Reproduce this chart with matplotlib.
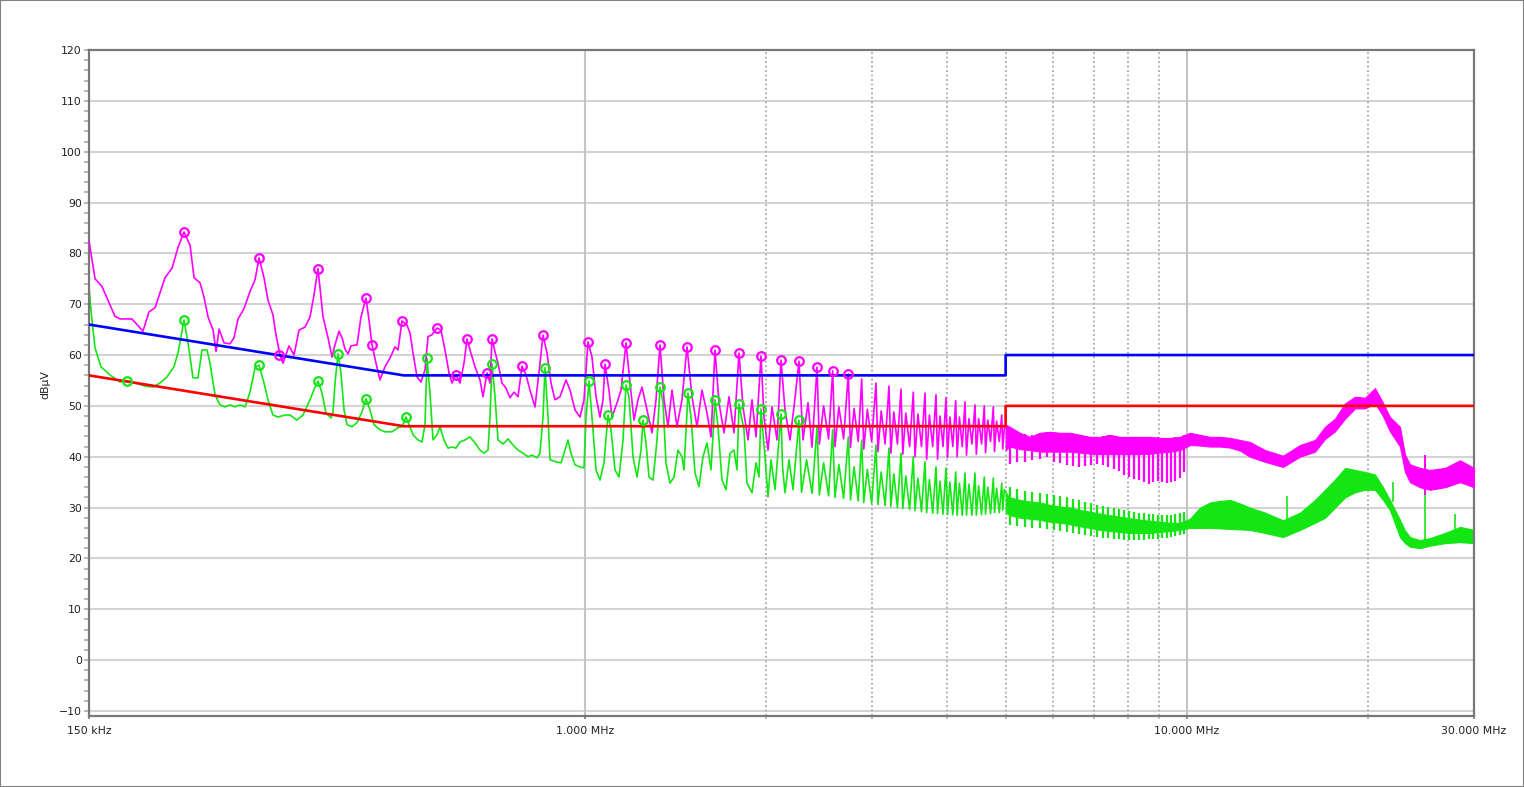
import matplotlib
matplotlib.use('Agg')
import matplotlib.pyplot as plt
from matplotlib.patches import Rectangle
from matplotlib.ticker import FixedLocator, NullFormatter

plt.rcParams['font.family'] = ['DejaVu Sans']

# ---- limit lines (MHz / dBuV) ----
lim_f = [0.15, 0.5, 5.0, 5.0, 30.0]
lim_qp = [66, 56, 56, 60, 60]
lim_av = [56, 46, 46, 50, 50]

# ---- peak trace (magenta), 150 kHz .. 2.4 MHz ----
pk_f = [0.1500, 0.1535, 0.1576, 0.1657, 0.1689, 0.1768, 0.1844, 0.1887, 0.1931, 0.2006,
        0.2061, 0.2108, 0.2157, 0.2208, 0.2242, 0.2294, 0.2329, 0.2365, 0.2411, 0.2439,
        0.2467, 0.2514, 0.2573, 0.2612, 0.2653, 0.2714, 0.2777, 0.2831, 0.2875, 0.2930,
        0.2975, 0.3032, 0.3067, 0.3115, 0.3151, 0.3224, 0.3286, 0.3350, 0.3427, 0.3494,
        0.3547, 0.3602, 0.3672, 0.3743, 0.3800, 0.3844, 0.3903, 0.3949, 0.3994, 0.4040,
        0.4087, 0.4182, 0.4246, 0.4328, 0.4378, 0.4429, 0.4497, 0.4566, 0.4654, 0.4744,
        0.4836, 0.4892, 0.4967, 0.5063, 0.5122, 0.5181, 0.5261, 0.5342, 0.5424, 0.5487,
        0.5571, 0.5679, 0.5766, 0.5855, 0.5946, 0.6014, 0.6107, 0.6201, 0.6297, 0.6369,
        0.6443, 0.6567, 0.6694, 0.6771, 0.6876, 0.6955, 0.7009, 0.7090, 0.7171, 0.7282,
        0.7394, 0.7508, 0.7624, 0.7742, 0.7861, 0.7982, 0.8105, 0.8262, 0.8421, 0.8519,
        0.8650, 0.8783, 0.8919, 0.9091, 0.9302, 0.9446, 0.9628, 0.9814, 0.9965, 1.0119,
        1.0275, 1.0433, 1.0594, 1.0717, 1.0799, 1.0965, 1.1092, 1.1306, 1.1481, 1.1702,
        1.1883, 1.2066, 1.2252, 1.2441, 1.2681, 1.2926, 1.3126, 1.3328, 1.3533, 1.3741,
        1.3953, 1.4223, 1.4497, 1.4778, 1.5063, 1.5354, 1.5650, 1.5953, 1.6199, 1.6448,
        1.6702, 1.7025, 1.7353, 1.7688, 1.8030, 1.8308, 1.8662, 1.8949, 1.9242, 1.9613,
        1.9840, 2.0146, 2.0456, 2.0851, 2.1173, 2.1499, 2.1915, 2.2253, 2.2682, 2.3032,
        2.3477, 2.3839]
pk_v = [82.5, 75.0, 73.5, 67.6, 67.1, 67.1, 64.7, 68.5, 69.3, 75.2,
        77.1, 81.1, 84.2, 81.6, 75.2, 74.2, 71.4, 67.5, 64.9, 60.7,
        65.1, 62.4, 62.2, 63.4, 67.1, 69.1, 72.5, 74.8, 79.1, 75.2,
        70.8, 67.9, 64.0, 60.0, 58.4, 61.8, 60.0, 64.9, 65.5, 67.5,
        71.8, 77.0, 67.5, 63.4, 59.6, 62.0, 64.7, 63.4, 61.2, 60.2,
        61.8, 62.0, 67.5, 71.2, 66.9, 62.0, 58.4, 55.1, 57.7, 59.4,
        61.6, 61.0, 66.7, 65.9, 64.3, 60.4, 55.7, 54.7, 57.1, 63.6,
        64.0, 65.3, 64.9, 61.0, 56.5, 54.5, 56.1, 54.5, 58.4, 63.2,
        61.0, 57.7, 55.1, 51.8, 56.5, 54.5, 63.2, 60.6, 58.4, 54.5,
        53.5, 51.6, 52.7, 51.8, 57.8, 56.1, 53.1, 49.8, 58.4, 63.9,
        60.4, 54.5, 51.2, 51.8, 55.1, 53.1, 49.2, 47.8, 51.2, 62.6,
        59.6, 51.8, 47.8, 51.2, 58.2, 53.1, 47.8, 50.6, 53.1, 62.4,
        54.5, 47.2, 51.2, 53.7, 49.2, 44.7, 51.2, 62.0, 51.2, 45.9,
        53.1, 45.9, 51.2, 61.6, 51.8, 45.9, 53.1, 48.6, 43.9, 61.0,
        50.6, 44.7, 51.8, 44.7, 60.4, 49.8, 43.3, 51.2, 43.9, 59.8,
        47.8, 41.3, 49.8, 43.3, 59.0, 49.2, 43.3, 49.8, 58.8, 43.3,
        50.6, 41.9]

# ---- average trace (green), 150 kHz .. 2.4 MHz ----
av_f = [0.1500, 0.1517, 0.1535, 0.1570, 0.1625, 0.1689, 0.1735, 0.1789, 0.1858, 0.1916,
        0.1968, 0.2022, 0.2076, 0.2108, 0.2133, 0.2157, 0.2191, 0.2233, 0.2276, 0.2311,
        0.2356, 0.2383, 0.2429, 0.2476, 0.2524, 0.2573, 0.2622, 0.2673, 0.2725, 0.2777,
        0.2831, 0.2875, 0.2930, 0.2975, 0.3032, 0.3091, 0.3175, 0.3236, 0.3324, 0.3401,
        0.3494, 0.3561, 0.3602, 0.3658, 0.3714, 0.3786, 0.3815, 0.3844, 0.3889, 0.3933,
        0.3979, 0.4025, 0.4103, 0.4182, 0.4262, 0.4328, 0.4395, 0.4463, 0.4566, 0.4654,
        0.4781, 0.4892, 0.4967, 0.5044, 0.5122, 0.5181, 0.5281, 0.5362, 0.5424, 0.5466,
        0.5529, 0.5593, 0.5679, 0.5744, 0.5833, 0.5923, 0.6014, 0.6107, 0.6201, 0.6321,
        0.6443, 0.6567, 0.6694, 0.6797, 0.6902, 0.6955, 0.7009, 0.7090, 0.7171, 0.7310,
        0.7451, 0.7595, 0.7742, 0.7891, 0.8043, 0.8168, 0.8325, 0.8421, 0.8519, 0.8584,
        0.8683, 0.8750, 0.8953, 0.9126, 0.9267, 0.9373, 0.9482, 0.9628, 0.9814, 0.9965,
        1.0042, 1.0158, 1.0314, 1.0433, 1.0594, 1.0758, 1.0923, 1.1050, 1.1220, 1.1393,
        1.1569, 1.1702, 1.1837, 1.2020, 1.2205, 1.2393, 1.2489, 1.2633, 1.2779, 1.2976,
        1.3176, 1.3328, 1.3482, 1.3637, 1.3847, 1.4061, 1.4277, 1.4497, 1.4609, 1.4834,
        1.5005, 1.5237, 1.5472, 1.5710, 1.5953, 1.6199, 1.6448, 1.6638, 1.6895, 1.7155,
        1.7420, 1.7688, 1.7893, 1.8030, 1.8378, 1.8590, 1.8949, 1.9242, 1.9464, 1.9613,
        1.9916, 2.0146, 2.0378, 2.0693, 2.1173, 2.1300, 2.1499, 2.1831, 2.2168, 2.2682,
        2.2900, 2.3350, 2.3850]
av_v = [73.2, 66.9, 61.4, 57.7, 56.1, 54.7, 55.0, 54.5, 53.9, 53.7,
        54.5, 55.7, 57.7, 60.4, 63.6, 66.9, 62.4, 55.5, 55.5, 61.0,
        61.0, 58.4, 52.2, 50.2, 49.8, 50.2, 49.8, 50.2, 49.8, 52.7,
        57.5, 58.0, 54.5, 51.2, 48.2, 47.8, 48.2, 48.2, 47.2, 48.2,
        51.2, 53.7, 54.9, 52.5, 48.6, 47.6, 48.8, 54.5, 60.2, 56.5,
        49.2, 46.3, 45.9, 46.7, 48.8, 51.4, 49.2, 46.3, 45.3, 44.9,
        44.9, 45.7, 45.9, 47.8, 45.9, 44.3, 43.3, 42.9, 46.3, 59.4,
        52.5, 43.3, 44.3, 45.9, 43.3, 41.7, 41.9, 41.7, 42.9, 43.3,
        43.9, 42.7, 41.3, 40.7, 41.3, 47.8, 58.3, 51.8, 43.3, 42.5,
        43.5, 42.3, 41.3, 40.7, 40.0, 40.3, 39.8, 40.7, 47.8, 57.5,
        47.8, 39.4, 39.0, 38.8, 41.3, 43.3, 40.7, 38.4, 38.0, 37.8,
        47.8, 54.9, 45.3, 37.4, 35.4, 38.8, 48.2, 45.3, 37.4, 36.0,
        43.3, 54.1, 51.8, 40.0, 36.0, 41.3, 47.2, 42.7, 36.0, 35.4,
        43.3, 53.7, 50.6, 38.8, 34.8, 36.0, 41.3, 40.0, 37.4, 52.5,
        47.8, 36.8, 34.1, 40.0, 42.7, 37.4, 51.2, 45.9, 35.4, 33.5,
        40.7, 41.3, 37.4, 50.4, 45.3, 34.8, 32.9, 38.8, 36.0, 49.4,
        40.0, 32.1, 39.4, 33.5, 48.4, 38.0, 32.9, 39.4, 33.5, 47.2,
        33.0, 39.4, 32.8]

# ---- harmonic comb 2.4 .. 5 MHz (shared frequency points) ----
comb_f = [2.430, 2.452, 2.492, 2.540, 2.580, 2.603, 2.642, 2.690,
          2.739, 2.762, 2.800, 2.845, 2.883, 2.906, 2.946, 2.995,
          3.045, 3.068, 3.106, 3.153, 3.200, 3.223, 3.260, 3.305,
          3.351, 3.374, 3.413, 3.463, 3.512, 3.535, 3.575, 3.624,
          3.673, 3.696, 3.735, 3.783, 3.831, 3.853, 3.890, 3.935,
          3.980, 4.003, 4.040, 4.085, 4.131, 4.153, 4.190, 4.235,
          4.280, 4.305, 4.345, 4.395, 4.447, 4.470, 4.510, 4.560,
          4.608, 4.630, 4.670, 4.720, 4.770, 4.792, 4.830, 4.880,
          4.926, 4.945, 4.975]
pk_comb = [57.6, 42.5, 50.0, 43.5, 56.9, 42.0, 49.8, 43.5,
           56.3, 41.8, 49.5, 43.0, 55.3, 41.5, 49.3, 43.0,
           54.5, 41.0, 49.0, 42.5, 53.9, 40.7, 48.8, 42.5,
           53.3, 40.5, 48.6, 42.0, 52.7, 40.0, 48.4, 42.0,
           52.5, 39.5, 48.2, 42.0, 52.2, 39.5, 48.0, 42.0,
           51.6, 39.8, 47.8, 42.0, 51.0, 40.0, 47.8, 42.0,
           50.8, 40.3, 47.5, 42.5, 50.2, 40.5, 47.5, 42.5,
           50.0, 40.8, 47.2, 43.0, 49.8, 41.0, 47.0, 43.0,
           48.2, 41.5, 45.5]
av_comb = [45.9, 32.5, 38.8, 32.3, 45.3, 32.0, 38.5, 31.8,
           43.9, 31.5, 38.0, 31.3, 43.3, 31.0, 37.5, 30.8,
           42.3, 30.6, 37.0, 30.4, 41.7, 30.2, 36.6, 30.0,
           40.7, 29.8, 36.2, 29.6, 40.0, 29.4, 35.8, 29.2,
           39.0, 29.0, 35.5, 28.9, 38.0, 28.8, 35.2, 28.7,
           37.8, 28.6, 35.0, 28.6, 37.0, 28.5, 34.8, 28.5,
           36.8, 28.5, 34.6, 28.5, 36.8, 28.5, 34.3, 28.6,
           36.0, 28.7, 34.0, 28.8, 35.8, 29.0, 33.8, 29.0,
           34.8, 29.5, 33.5]

# ---- dense part 5 .. 30 MHz: envelope of the sweep ----
band_f = [5.00, 5.08, 5.28, 5.49, 5.70, 5.93, 6.16, 6.40, 6.65, 6.91,
          7.17, 7.45, 7.74, 8.05, 8.36, 8.69, 9.03, 9.38, 9.74, 10.12,
          10.52, 10.93, 11.35, 11.80, 12.26, 12.73, 13.49, 14.45, 15.42, 16.33,
          16.97, 17.63, 18.32, 19.03, 19.77, 20.54, 21.18, 21.75, 22.60, 23.04,
          23.48, 24.40, 25.35, 26.85, 28.44, 30.00]
pk_hi = [46.3, 45.9, 44.7, 43.9, 44.7, 44.9, 44.7, 44.7, 44.3, 43.9,
         43.9, 44.3, 43.9, 43.9, 43.9, 43.9, 43.7, 43.7, 43.9, 44.7,
         44.3, 43.9, 43.9, 43.7, 43.3, 42.9, 41.3, 40.2, 42.3, 43.3,
         45.9, 47.5, 50.5, 51.8, 51.6, 53.5, 50.6, 47.8, 45.9, 40.4,
         38.5, 37.8, 37.4, 37.8, 39.3, 37.8]
pk_lo = [41.3, 42.0, 41.5, 41.3, 41.0, 41.0, 41.0, 41.0, 40.8, 40.6,
         40.5, 40.5, 40.5, 40.5, 40.5, 40.6, 40.8, 41.0, 41.3, 42.3,
         42.2, 42.0, 42.0, 41.8, 41.2, 40.0, 39.0, 38.0, 40.0, 41.0,
         43.5, 45.0, 47.5, 49.5, 49.5, 50.5, 48.0, 45.0, 42.0, 37.0,
         35.0, 34.0, 33.5, 34.0, 35.0, 34.0]
av_hi = [33.0, 32.0, 31.5, 31.2, 31.0, 30.5, 30.2, 30.0, 29.5, 29.2,
         28.8, 28.5, 28.2, 27.9, 27.6, 27.4, 27.2, 27.0, 27.0, 27.8,
         30.0, 31.0, 31.3, 31.5, 30.8, 30.0, 29.0, 27.5, 29.0, 31.5,
         33.5, 35.5, 37.8, 37.4, 37.0, 36.5, 34.0, 31.5, 27.6, 25.5,
         24.2, 23.6, 24.0, 25.0, 26.2, 25.6]
av_lo = [29.0, 28.5, 28.0, 27.8, 27.6, 27.2, 27.0, 26.7, 26.3, 26.0,
         25.6, 25.4, 25.2, 25.0, 25.0, 25.0, 25.2, 25.4, 25.6, 26.0,
         26.0, 26.0, 25.9, 25.8, 25.7, 25.6, 25.0, 24.2, 25.6, 27.0,
         28.0, 30.0, 32.0, 33.0, 33.5, 33.5, 31.5, 29.5, 24.2, 23.0,
         22.3, 22.0, 22.5, 23.0, 23.2, 23.0]

# harmonic strokes 5 .. 10 MHz (each harmonic sweeps through the band)
harm_f = [5.08, 5.23, 5.39, 5.54, 5.70, 5.85, 6.01, 6.16, 6.32, 6.47,
          6.63, 6.78, 6.94, 7.09, 7.25, 7.40, 7.56, 7.71, 7.87, 8.02,
          8.18, 8.33, 8.49, 8.64, 8.80, 8.95, 9.11, 9.26, 9.42, 9.57,
          9.73, 9.88]
pk_harm_lo = [38.5, 39.0, 39.0, 39.4, 39.5, 40.0, 39.0, 38.8, 38.4, 38.2,
              38.0, 38.2, 38.4, 38.6, 38.4, 38.0, 37.6, 37.2, 36.4, 36.0,
              35.6, 35.4, 35.0, 34.6, 35.0, 35.2, 35.0, 34.8, 35.0, 35.2,
              35.8, 37.0]
pk_harm_hi = [45.5, 45.0, 44.5, 44.2, 44.7, 44.9, 44.7, 44.7, 44.7, 44.5,
              44.3, 44.1, 43.9, 43.9, 44.1, 44.3, 44.1, 43.9, 43.9, 43.9,
              43.9, 43.9, 43.9, 43.9, 43.9, 43.9, 43.7, 43.7, 43.7, 43.8,
              43.9, 44.3]
av_harm_lo = [26.5, 26.3, 26.2, 26.0, 26.0, 25.8, 25.6, 25.4, 25.2, 25.0,
              24.8, 24.6, 24.4, 24.2, 24.0, 24.0, 23.8, 23.8, 23.6, 23.6,
              23.6, 23.6, 23.6, 23.8, 23.8, 23.8, 24.0, 24.0, 24.2, 24.4,
              24.6, 24.8]
av_harm_hi = [34.0, 33.6, 33.2, 33.0, 32.8, 32.6, 32.4, 32.2, 32.0, 31.6,
              31.4, 31.0, 30.8, 30.6, 30.4, 30.2, 30.0, 29.8, 29.6, 29.4,
              29.2, 29.0, 29.0, 28.8, 28.8, 28.6, 28.6, 28.6, 28.6, 28.8,
              29.0, 29.2]

# single spikes above 10 MHz
pk_spk_f = [24.87]
pk_spk_lo = [32.5]
pk_spk_hi = [40.4]
av_spk_f = [14.67, 22.00, 24.87, 27.90]
av_spk_lo = [26.0, 31.0, 22.3, 24.0]
av_spk_hi = [32.3, 35.0, 32.9, 28.8]

# ---- peak markers ----
pk_mk_f = [0.2157, 0.2875, 0.3103, 0.3602, 0.4328, 0.4429, 0.4967, 0.5679, 0.6107, 0.6369,
           0.6876, 0.7009, 0.7861, 0.8519, 1.0119, 1.0799, 1.1702, 1.3328, 1.4778, 1.6448,
           1.8030, 1.9613, 2.1173, 2.2682, 2.4299, 2.580, 2.739]
pk_mk_v = [84.2, 79.1, 60.0, 77.0, 71.2, 62.0, 66.7, 65.3, 56.1, 63.2,
           56.5, 63.2, 57.8, 63.9, 62.6, 58.2, 62.4, 62.0, 61.6, 61.0,
           60.4, 59.8, 59.0, 58.8, 57.6, 56.9, 56.3]
av_mk_f = [0.1735, 0.2157, 0.2875, 0.3602, 0.3889, 0.4328, 0.5044, 0.5466, 0.7009, 0.8584,
           1.0158, 1.0923, 1.1702, 1.2489, 1.3328, 1.4834, 1.6448, 1.8030, 1.9613, 2.1173,
           2.2682]
av_mk_v = [54.9, 66.9, 58.0, 54.9, 60.2, 51.4, 47.8, 59.4, 58.3, 57.5,
           54.9, 48.2, 54.1, 47.2, 53.7, 52.5, 51.2, 50.4, 49.4, 48.4,
           47.2]

MAG = '#ff00ff'
GRN = '#14e614'

fig = plt.figure(figsize=(15.24, 7.87), dpi=100)
ax = fig.add_axes([89 / 1524, 71 / 787, 1385 / 1524, 666 / 787])

# grid
for yv in range(-10, 120, 10):
    ax.axhline(yv, color='#d4d4d4', lw=1.5, zorder=0)
for xv in [1, 10]:
    ax.axvline(xv, color='#c4c4c4', lw=1.5, zorder=0)
for xv in [2, 3, 4, 5, 6, 7, 8, 9, 20]:
    ax.axvline(xv, color='#b4b4b4', lw=1.4, ls=(0, (1, 1.3)), zorder=0)

# average (green)
ax.plot(av_f + comb_f + band_f[:1], av_v + av_comb + av_hi[:1], color=GRN, lw=1.2, zorder=2)
ax.fill_between(band_f, av_lo, av_hi, color=GRN, lw=0.8, zorder=2)
ax.vlines(harm_f, av_harm_lo, av_harm_hi, color=GRN, lw=1.6, zorder=2)
ax.vlines(av_spk_f, av_spk_lo, av_spk_hi, color=GRN, lw=1.2, zorder=2)

# peak (magenta)
ax.plot(pk_f + comb_f + band_f[:1], pk_v + pk_comb + pk_hi[:1], color=MAG, lw=1.2, zorder=3)
ax.fill_between(band_f, pk_lo, pk_hi, color=MAG, lw=0.8, zorder=3)
ax.vlines(harm_f, pk_harm_lo, pk_harm_hi, color=MAG, lw=1.6, zorder=3)
ax.vlines(pk_spk_f, pk_spk_lo, pk_spk_hi, color=MAG, lw=1.4, zorder=3)

# limits
ax.plot(lim_f, lim_qp, color='#0000ff', lw=1.9, zorder=4)
ax.plot(lim_f, lim_av, color='#ff0000', lw=1.9, zorder=4)

# markers
ax.plot(pk_mk_f, pk_mk_v, ls='none', marker='o', ms=6.2, mfc='none', mec=MAG, mew=1.6, zorder=5)
ax.plot(av_mk_f, av_mk_v, ls='none', marker='o', ms=6.2, mfc='none', mec=GRN, mew=1.6, zorder=5)

ax.set_xscale('log')
ax.set_xlim(0.15, 30)
ax.set_ylim(-11, 120)

ax.xaxis.set_major_locator(FixedLocator([0.15, 1, 10, 30]))
ax.set_xticklabels(['150 kHz', '1.000 MHz', '10.000 MHz', '30.000 MHz'])
ax.xaxis.set_minor_locator(FixedLocator([2, 3, 4, 5, 6, 7, 8, 9, 20]))
ax.xaxis.set_minor_formatter(NullFormatter())
ax.tick_params(axis='x', which='major', length=2.5, width=1.5, color='#909090',
               labelsize=7.8, labelcolor='#202020', pad=5)
ax.tick_params(axis='x', which='minor', length=2.5, width=1.2, color='#b4b4b4')

ax.set_yticks(range(-10, 121, 10))
ax.set_yticks(range(-10, 121, 2), minor=True)
ax.tick_params(axis='y', which='both', length=3.6, width=1.4, color='#b8b8b8',
               labelsize=7.8, labelcolor='#202020', pad=1.5)

for s in ax.spines.values():
    s.set_color('#787878')
    s.set_linewidth(1.6)

fig.text(45 / 1524, 1 - 385 / 787, 'dBµV', rotation=90, ha='center', va='center',
         fontsize=7.8, color='#202020')

fig.patches.append(Rectangle((0, 0), 1, 1, transform=fig.transFigure, fill=False,
                             edgecolor='#808080', lw=1.5))

fig.savefig('out.png', dpi=100)
